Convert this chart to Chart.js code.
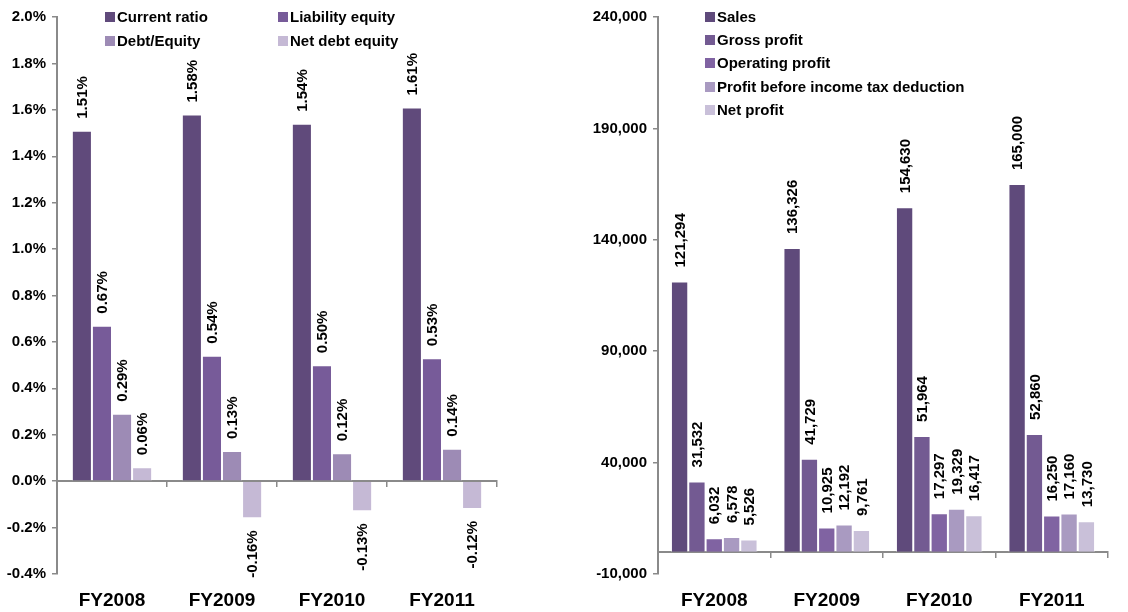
<!DOCTYPE html>
<html>
<head>
<meta charset="utf-8">
<script src="https://cdn.jsdelivr.net/npm/chart.js@4"></script>
<style>
  body { margin: 0; background: #fff; }
  #left { position: absolute; left: 0; top: 0; }
  #right { position: absolute; left: 560px; top: 0; }
</style>
</head>
<body>
<canvas id="left" width="560" height="612"></canvas>
<canvas id="right" width="568" height="612"></canvas>
<script>
// ---- data ----
const years = ['FY2008', 'FY2009', 'FY2010', 'FY2011'];

const currentRatio = [1.51, 1.58, 1.54, 1.61];
const liabilityEquity = [0.67, 0.54, 0.50, 0.53];
const debtEquity = [0.29, 0.13, 0.12, 0.14];
const netDebtEquity = [0.06, -0.16, -0.13, -0.12];
const ratioTicks = [-0.4, -0.2, 0.0, 0.2, 0.4, 0.6, 0.8, 1.0, 1.2, 1.4, 1.6, 1.8, 2.0];

const sales = [121294, 136326, 154630, 165000];
const grossProfit = [31532, 41729, 51964, 52860];
const operatingProfit = [6032, 10925, 17297, 16250];
const profitBeforeTax = [6578, 12192, 19329, 17160];
const netProfit = [5526, 9761, 16417, 13730];
const moneyTicks = [-10000, 40000, 90000, 140000, 190000, 240000];

const FONT = '"Liberation Sans", Arial, sans-serif';
const GREY = '#8a8a8a';

// rotated value labels above / below each bar
const barLabels = {
    id: 'barLabels',
    afterDatasetsDraw(chart, args, opts) {
        const ctx = chart.ctx;
        ctx.save();
        ctx.font = 'bold 15px ' + FONT;
        ctx.fillStyle = '#000';
        ctx.textBaseline = 'middle';
        chart.data.datasets.forEach((ds, i) => {
            chart.getDatasetMeta(i).data.forEach((bar, j) => {
                const v = ds.data[j];
                ctx.save();
                ctx.translate(bar.x + 1, bar.y + (v >= 0 ? -opts.gap : opts.gap));
                ctx.rotate(-Math.PI / 2);
                ctx.textAlign = v >= 0 ? 'left' : 'right';
                ctx.fillText(opts.format(v), 0, 0);
                ctx.restore();
            });
        });
        ctx.restore();
    }
};

// square-box legend placed inside the plot
const boxLegend = {
    id: 'boxLegend',
    afterDraw(chart, args, opts) {
        const ctx = chart.ctx;
        ctx.save();
        ctx.font = 'bold 15px ' + FONT;
        ctx.textBaseline = 'middle';
        chart.data.datasets.forEach((ds, i) => {
            const [x, y] = opts.spots[i];
            ctx.fillStyle = ds.backgroundColor;
            ctx.fillRect(x, y - 5, 10, 10);
            ctx.fillStyle = '#000';
            ctx.fillText(ds.label, x + 12, y + 1);
        });
        ctx.restore();
    }
};

function makeScales(tickVals, fmt, axisWidth) {
    return {
        x: {
            type: 'category',
            grid: { display: false, drawTicks: false },
            border: { display: false },
            ticks: { color: '#000', font: { family: FONT, size: 19, weight: 'bold' }, padding: 15 },
            afterFit(scale) { scale.height = 38; }
        },
        x0: {
            type: 'category',
            position: { y: 0 },
            offset: true,
            grid: { offset: true, drawOnChartArea: false, tickLength: 5, color: GREY, lineWidth: 1.5 },
            border: { color: GREY, width: 2 },
            ticks: { display: false }
        },
        y: {
            min: tickVals[0],
            max: tickVals[tickVals.length - 1],
            afterBuildTicks(scale) { scale.ticks = tickVals.map(v => ({ value: v })); },
            grid: { drawOnChartArea: false, tickLength: 5, color: GREY, lineWidth: 1.5 },
            border: { color: GREY, width: 2 },
            ticks: {
                color: '#000',
                font: { family: FONT, size: 15, weight: 'bold' },
                padding: 6,
                callback: fmt
            },
            afterFit(scale) { scale.width = axisWidth; }
        }
    };
}

function bars(label, data, color, catPct) {
    return {
        label: label,
        data: data,
        backgroundColor: color,
        borderColor: 'rgba(255,255,255,0.55)',
        borderWidth: 1,
        barPercentage: 1,
        categoryPercentage: catPct
    };
}

new Chart(document.getElementById('left').getContext('2d'), {
    type: 'bar',
    data: {
        labels: years,
        datasets: [
            bars('Current ratio', currentRatio, '#604a7b', 0.73),
            bars('Liability equity', liabilityEquity, '#775b99', 0.73),
            bars('Debt/Equity', debtEquity, '#9d8bb5', 0.73),
            bars('Net debt equity', netDebtEquity, '#c5b9d5', 0.73)
        ]
    },
    options: {
        responsive: false,
        animation: false,
        devicePixelRatio: 1,
        layout: { padding: { top: 17, right: 63, bottom: 0, left: 0 } },
        scales: makeScales(ratioTicks, v => v.toFixed(1) + '%', 57),
        plugins: {
            legend: { display: false },
            tooltip: { enabled: false },
            barLabels: { gap: 12, format: v => v.toFixed(2) + '%' },
            boxLegend: { spots: [[105, 17], [278, 17], [105, 41], [278, 41]] }
        }
    },
    plugins: [barLabels, boxLegend]
});

new Chart(document.getElementById('right').getContext('2d'), {
    type: 'bar',
    data: {
        labels: years,
        datasets: [
            bars('Sales', sales, '#5f4a7b', 0.77),
            bars('Gross profit', grossProfit, '#735a92', 0.77),
            bars('Operating profit', operatingProfit, '#8063a2', 0.77),
            bars('Profit before income tax deduction', profitBeforeTax, '#a99ac1', 0.77),
            bars('Net profit', netProfit, '#c9c0d9', 0.77)
        ]
    },
    options: {
        responsive: false,
        animation: false,
        devicePixelRatio: 1,
        layout: { padding: { top: 17, right: 20, bottom: 0, left: 0 } },
        scales: makeScales(moneyTicks, v => v.toLocaleString('en-US'), 98),
        plugins: {
            legend: { display: false },
            tooltip: { enabled: false },
            barLabels: { gap: 14, format: v => v.toLocaleString('en-US') },
            boxLegend: { spots: [[145, 17], [145, 40], [145, 63], [145, 87], [145, 110]] }
        }
    },
    plugins: [barLabels, boxLegend]
});
</script>
</body>
</html>
